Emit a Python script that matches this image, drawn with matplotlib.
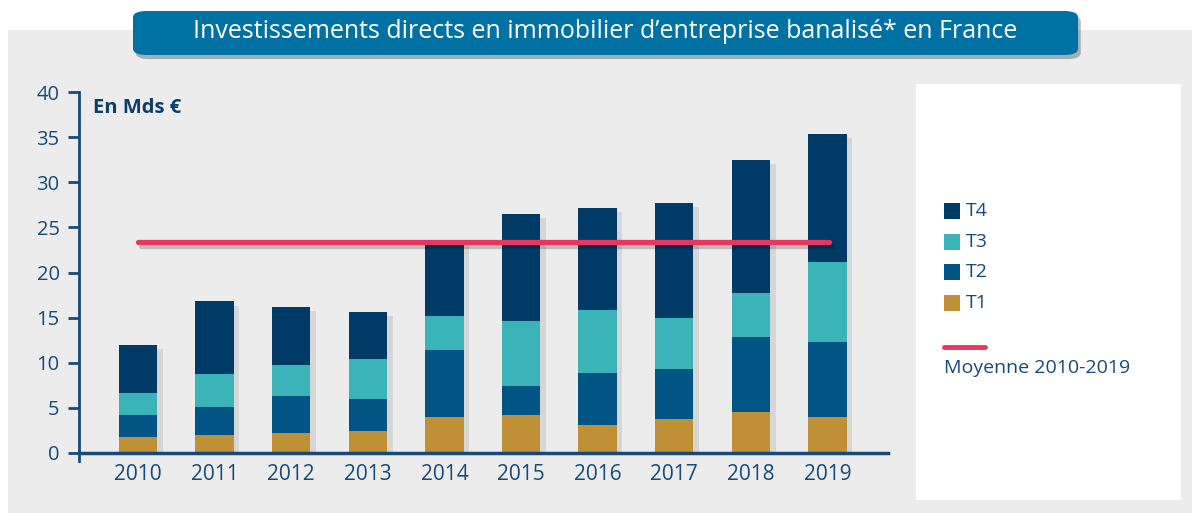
import numpy as np
import matplotlib.pyplot as plt
from matplotlib.patches import Rectangle, FancyBboxPatch
from matplotlib.lines import Line2D
import matplotlib.patheffects as pe

plt.rcParams['font.family'] = ['Open Sans', 'DejaVu Sans']

# data (Mds EUR)
years = ['2010', '2011', '2012', '2013', '2014', '2015', '2016', '2017', '2018', '2019']
t1 = [1.8, 2.0, 2.2, 2.4, 4.0, 4.2, 3.05, 3.8, 4.55, 4.0]
t2 = [2.4, 3.1, 4.15, 3.6, 7.45, 3.25, 5.85, 5.47, 8.35, 8.35]
t3 = [2.5, 3.65, 3.35, 4.4, 3.7, 7.15, 6.95, 5.68, 4.8, 8.8]
t4 = [5.3, 8.05, 6.5, 5.25, 8.35, 11.85, 11.3, 12.75, 14.75, 14.2]
moyenne = 23.4
series_labels = ['T1', 'T2', 'T3', 'T4']
colors = ['#bf9035', '#015584', '#3ab4b8', '#003a66']
line_color = '#e8375f'
text_color = '#174a78'

W, H = 1192, 513
fig = plt.figure(figsize=(W / 100, H / 100), dpi=100)
fig.patch.set_facecolor('white')

def fx(x):
    return x / W

def fy(y):
    return 1 - y / H

# grey panel
fig.add_artist(Rectangle((fx(8), 0), fx(W - 8), fy(30), transform=fig.transFigure,
                         facecolor='#ececec', edgecolor='none', zorder=0))

# white legend panel
fig.add_artist(Rectangle((fx(916), fy(500)), fx(1181 - 916), (500 - 84) / H,
                         transform=fig.transFigure, facecolor='white',
                         edgecolor='none', zorder=1))

# title box
tb = FancyBboxPatch((fx(133), fy(55)), fx(1078 - 133), 44 / H,
                    boxstyle='round,pad=0,rounding_size=0.012',
                    transform=fig.transFigure, facecolor='#0071a3',
                    edgecolor='none', zorder=3, mutation_aspect=H / W * 2.3)
tb.set_path_effects([pe.SimplePatchShadow(offset=(2, -3), alpha=0.3), pe.Normal()])
fig.add_artist(tb)
fig.text(fx(605), fy(32), 'Investissements directs en immobilier d\u2019entreprise banalis\u00e9* en France',
         color='white', fontsize=18, fontweight='medium', ha='center', va='center', zorder=4)

# axes
ax = fig.add_axes([fx(79), fy(453), fx(888 - 79), (453 - 92) / H])
ax.set_facecolor('none')
x = np.arange(len(years))
totals = np.array(t1) + np.array(t2) + np.array(t3) + np.array(t4)

# one soft shadow per whole bar
ax.bar(x, totals, width=0.5, color='#ececec', zorder=1,
       path_effects=[pe.SimplePatchShadow(offset=(4, -3), alpha=0.18, rho=0.5)])

bottom = np.zeros(len(years))
for vals, c, lab in zip([t1, t2, t3, t4], colors, series_labels):
    ax.bar(x, vals, width=0.5, bottom=bottom, color=c, label=lab, zorder=2)
    bottom += np.array(vals)

ax.plot([x[0], x[-1] + 0.02], [moyenne, moyenne], color=line_color, lw=3.8,
        solid_capstyle='round', zorder=5,
        path_effects=[pe.SimpleLineShadow(offset=(2, -3), alpha=0.2), pe.Normal()])

ax.set_xlim(-0.77, 9.79)
ax.set_ylim(0, 40)
ax.set_yticks(range(0, 41, 5))
ax.set_xticks(x)
ax.set_xticklabels(years)
for s in ['top', 'right']:
    ax.spines[s].set_visible(False)
ax.spines['left'].set_color(text_color)
ax.spines['bottom'].set_color(text_color)
ax.spines['left'].set_linewidth(2)
ax.spines['bottom'].set_linewidth(2.5)
ax.tick_params(axis='y', direction='out', length=8, width=2, color=text_color,
               labelcolor=text_color, labelsize=14.5, pad=6)
ax.tick_params(axis='x', length=0, labelcolor=text_color, labelsize=15, pad=8)
# small extension of the y spine under zero
ax.plot([0, 0], [0, -0.022], transform=ax.transAxes, color=text_color, lw=2, clip_on=False)

ax.text(fx(93), fy(108), 'En Mds \u20ac', transform=fig.transFigure, fontsize=14.5,
        fontweight='bold', color='#0d3d6b', va='center', ha='left')

# legend
leg_y = [303, 272, 242, 211]
for ly, c, lab in zip(leg_y, colors, series_labels):
    fig.add_artist(Rectangle((fx(944), fy(ly + 8)), fx(16), 16 / H,
                             transform=fig.transFigure, facecolor=c,
                             edgecolor='none', zorder=4))
    fig.text(fx(966), fy(ly), lab, color=text_color, fontsize=14, va='center', zorder=4)
fig.add_artist(Line2D([fx(944), fx(985)], [fy(347), fy(347)], transform=fig.transFigure,
                      color=line_color, lw=3.5, solid_capstyle='round', zorder=4))
fig.text(fx(944), fy(368), 'Moyenne 2010-2019', color=text_color, fontsize=14,
         va='center', zorder=4)

fig.savefig('out.png', dpi=100, facecolor=fig.get_facecolor())
